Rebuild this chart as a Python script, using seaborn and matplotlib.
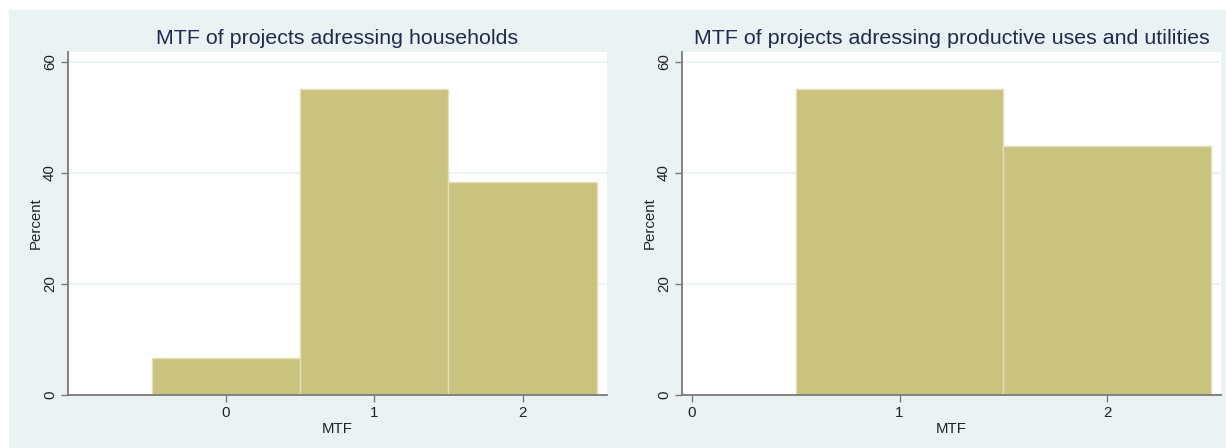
import seaborn as sns
import matplotlib.pyplot as plt
import pandas as pd
from matplotlib.patches import Rectangle

# Данные (проценты)
mtf_households = [0, 1, 2]
pct_households = [6.5, 55.1, 38.4]

mtf_productive = [1, 2]
pct_productive = [55.1, 44.9]

titles = ['MTF of projects adressing households',
          'MTF of projects adressing productive uses and utilities']

bar_color = '#CAC27F'
bg_color = '#EAF2F3'
axis_color = '#7A7A7A'
title_color = '#1E2B4F'

sns.set_style('white')
plt.rcParams['font.family'] = ['Liberation Sans', 'DejaVu Sans']

fig = plt.figure(figsize=(12.26, 4.48), dpi=100, facecolor='white')
# фон как в Stata (s2color)
fig.patches.append(Rectangle((9 / 1226, 0), 1, 1 - 10 / 448, transform=fig.transFigure,
                             facecolor=bg_color, edgecolor='none', zorder=-10))

ax1 = fig.add_axes([68 / 1226, 1 - 394.5 / 448, 539 / 1226, 342.5 / 448])
ax2 = fig.add_axes([682 / 1226, 1 - 394.5 / 448, 539 / 1226, 342.5 / 448])

df1 = pd.DataFrame({'MTF': mtf_households, 'pct': pct_households})
df2 = pd.DataFrame({'MTF': mtf_productive, 'pct': pct_productive})

panels = [(ax1, df1, titles[0], (-1.063, 2.569)),
          (ax2, df2, titles[1], (-0.047, 2.547))]

for ax, df, title, xlim in panels:
    ax.set_facecolor('white')
    sns.histplot(data=df, x='MTF', weights='pct', discrete=True, ax=ax,
                 color=bar_color, alpha=1, edgecolor='#E4DFB8', linewidth=1)
    ax.set_xlim(*xlim)
    ax.set_ylim(0, 61.8)
    ax.set_yticks([0, 20, 40, 60])
    ax.set_xticks([0, 1, 2])
    ax.yaxis.grid(True, color=bg_color, linewidth=1.2)
    ax.set_axisbelow(True)
    for s in ['top', 'right']:
        ax.spines[s].set_visible(False)
    for s in ['left', 'bottom']:
        ax.spines[s].set_color(axis_color)
        ax.spines[s].set_linewidth(1.3)
    ax.tick_params(axis='both', length=5, width=1, color=axis_color,
                   labelsize=10.8, labelcolor='#222222', pad=3, left=True, bottom=True)
    for lbl in ax.get_yticklabels():
        lbl.set_rotation(90)
        lbl.set_va('center')
    ax.set_xlabel('MTF', fontsize=10.8, color='#222222', labelpad=2)
    ax.set_ylabel('Percent', fontsize=10.8, color='#222222', labelpad=0)
    ax.set_title(title, fontsize=15.4, color=title_color, pad=6)

fig.savefig('out.png', dpi=100, facecolor=fig.get_facecolor())
